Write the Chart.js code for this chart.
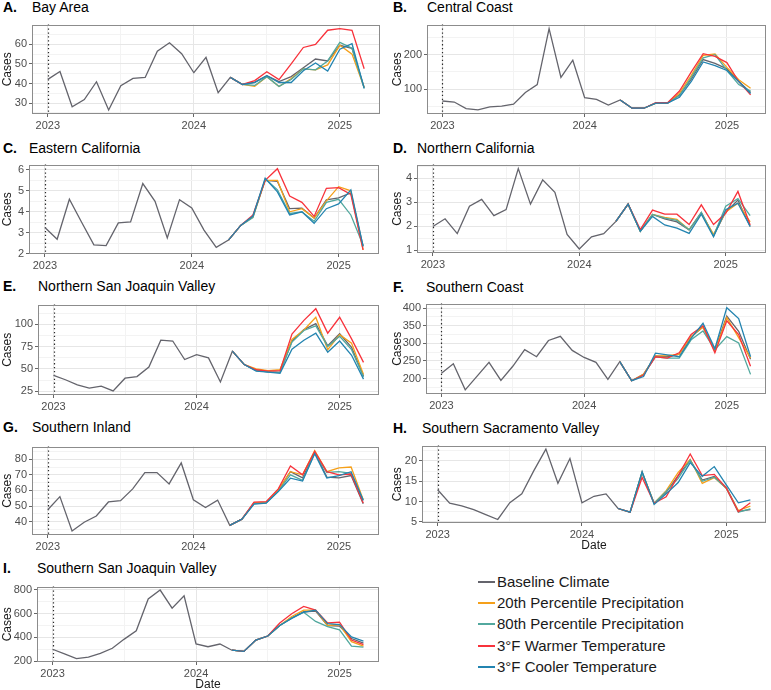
<!DOCTYPE html>
<html><head><meta charset="utf-8">
<script src="https://cdn.jsdelivr.net/npm/chart.js@4.4.1/dist/chart.umd.min.js"></script>
<style>
html,body{margin:0;padding:0;background:#fff;width:771px;height:690px;overflow:hidden;font-family:'Liberation Sans',Arial,sans-serif;}
#wrap{position:relative;width:771px;height:690px;}
canvas{position:absolute;}
.ttl{position:absolute;font-size:14px;line-height:14px;color:#000;white-space:nowrap;}
.ltr{font-weight:bold;}
.leg{position:absolute;left:478px;font-size:15px;line-height:16px;height:16px;color:#1a1a1a;white-space:nowrap;}
.sw{display:inline-block;width:17px;height:2px;vertical-align:middle;margin-right:2px;position:relative;top:-1px;}
</style></head><body><div id="wrap"></div>
<script>
// ---------- categories ----------
const DATES = ['2023-01','2023-02','2023-03','2023-04','2023-05','2023-06','2023-07','2023-08','2023-09','2023-10','2023-11','2023-12',
  '2024-01','2024-02','2024-03','2024-04','2024-05','2024-06','2024-07','2024-08','2024-09','2024-10','2024-11','2024-12',
  '2025-01','2025-02','2025-03'];
const YEAR_LABELS = ['2023','2024','2025'];
const REF_DATE = '2023-01';      // dotted reference line
const PROJ_START = '2024-04';    // first month of the scenario series
const SERIES_NAMES = ['Baseline Climate','20th Percentile Precipitation','80th Percentile Precipitation','3°F Warmer Temperature','3°F Cooler Temperature'];

// ---------- A. Bay Area ----------
const A_BASE = [42.1,46.1,28.1,31.8,40.9,26.5,38.9,42.6,43.1,56.5,60.8,55.2,45.5,53.3,35.3,43.1,39.5,40.7,44,41,43.5,48,52.5,51.5,59.5,58,38];
const A_P20  = [43.1,39.5,38.5,43.5,38.5,42.5,47.5,47,49.5,59.5,55,38];
const A_P80  = [43.1,39.5,39,43.5,38.5,42,47.5,47,51.5,61,58,37.5];
const A_WARM = [43.1,39.5,41.5,46,42,50,58.4,60,67.2,68,67.2,47.5];
const A_COOL = [43.1,39.5,40.5,44,40.5,40.5,46.5,50.5,46.4,57.5,60.3,37.5];
const A_YTICKS = [30,40,50,60];
// ---------- B. Central Coast ----------
const B_BASE = [65,62,43,39,48,50,56,90,113,276,134,184,75,70,53,68,44,44,59,59,83,129,186,175,159,122,90];
const B_P20  = [68,44,44,59,59,88,140,198,202,163,127,102];
const B_P80  = [68,44,44,59,59,81,134,191,200,154,113,94];
const B_WARM = [68,44,44,60,60,94,150,203,195,177,122,83];
const B_COOL = [68,44,44,59,59,76,122,179,168,154,122,87];
const B_YTICKS = [100,200];
// ---------- C. Eastern California ----------
const C_BASE = [3.25,2.69,4.6,3.5,2.42,2.39,3.47,3.52,5.35,4.5,2.75,4.58,4.18,3.13,2.3,2.65,3.35,3.78,5.5,5.45,4.15,4.18,3.7,4.57,4.67,4.9,2.35];
const C_P20  = [2.65,3.35,3.75,5.5,5.5,4.0,4.15,3.7,4.52,5.2,5.0,2.18];
const C_P80  = [2.65,3.35,3.72,5.58,5.05,3.92,4.0,3.55,4.45,4.6,3.85,2.4];
const C_WARM = [2.65,3.35,3.85,5.5,6.06,4.75,4.45,3.78,5.12,5.15,4.83,2.18];
const C_COOL = [2.65,3.35,3.8,5.6,4.95,3.85,4.0,3.45,4.15,4.38,5.05,2.35];
const C_YTICKS = [2,3,4,5,6];
// ---------- D. Northern California ----------
const D_BASE = [2.0,2.32,1.7,2.84,3.13,2.45,2.7,4.41,2.93,3.94,3.42,1.67,1.06,1.57,1.7,2.21,2.93,1.8,2.5,2.32,2.19,1.86,2.58,1.62,2.6,3.1,2.0];
const D_P20  = [2.21,2.93,1.8,2.5,2.38,2.29,1.86,2.55,1.67,2.6,2.97,2.19];
const D_P80  = [2.21,2.93,1.8,2.5,2.35,2.25,1.86,2.58,1.6,2.84,3.16,2.45];
const D_WARM = [2.21,2.93,1.87,2.68,2.51,2.51,2.08,2.9,2.08,2.55,3.46,2.06];
const D_COOL = [2.21,2.93,1.8,2.42,2.06,1.93,1.71,2.51,1.57,2.7,2.97,2.0];
const D_YTICKS = [1,2,3,4];
// ---------- E. Northern San Joaquin Valley ----------
const E_BASE = [42.7,37.8,32.1,28.5,30.7,25.3,39.5,41.3,52,82.2,81.2,60.5,65.9,62.3,35.3,69.8,54.8,48.4,46.7,46,81,94,100.7,75.8,89.3,74,42];
const E_P20  = [69.8,54.8,49.9,48,49.2,83,93.6,107.8,71.5,88.3,78.7,43.8];
const E_P80  = [69.8,54.8,48,46.5,46,80,93,98.2,75.1,86.5,71.5,41];
const E_WARM = [69.8,54.8,49,47.5,48,89,104.3,117.4,90,107.8,83.6,57.3];
const E_COOL = [69.8,54.8,47.4,46.3,45,72,82,90,68.7,81.2,65.2,38.5];
const E_YTICKS = [25,50,75,100];
// ---------- F. Southern Coast ----------
const F_BASE = [215,242,168,207,246,195,235,282,262,308,320,280,260,246,198,248,194,212,264,262,269,319,346,282,377,334,255];
const F_P20  = [248,194,213,264,265,269,319,346,278,373,316,258];
const F_P80  = [248,194,210,262,258,258,310,335,282,319,301,212];
const F_WARM = [248,194,210,262,258,273,325,350,273,364,325,235];
const F_COOL = [248,194,206,272,267,262,314,357,285,401,370,262];
const F_YTICKS = [200,250,300,350,400];
// ---------- G. Southern Inland ----------
const G_BASE = [47.6,56,34,39.6,43.6,52.6,53.4,61,71.4,71.4,64.2,77.6,54,49,53.8,37.6,41.6,52,52.2,60,72,68,84.5,68.5,68,69.5,51.5];
const G_P20  = [37.6,41.6,52,52.5,60.5,72,70,85.5,72,74.5,75,54];
const G_P80  = [37.6,41.6,51.5,52,59.5,70,66.5,84,71.5,72,71,54];
const G_WARM = [37.6,41.6,52.5,52.8,61,75.6,70,85,72,70,70.5,52];
const G_COOL = [37.6,41.6,51.2,51.8,59.2,67.8,66,83.5,68,69.5,72,53.5];
const G_YTICKS = [40,50,60,70,80];
// ---------- H. Southern Sacramento Valley ----------
const H_BASE = [12.9,9.6,8.95,8.0,6.8,5.6,9.74,11.9,17.6,22.9,14.5,20.6,9.7,11.3,11.9,8.3,7.4,17.2,9.6,12.3,16.4,20.2,15.3,16.2,13.5,7.6,8.0];
const H_P20  = [8.3,7.4,17.2,9.6,12.7,17.2,20.4,14.5,15.9,13.3,7.8,8.9];
const H_P80  = [8.3,7.4,17,9.6,12.5,15.7,20.2,15,16,13.3,7.4,8.2];
const H_WARM = [8.3,7.4,15.9,9.6,11.2,16.4,21.7,16.4,16.7,13.3,7.5,9.7];
const H_COOL = [8.3,7.4,17.4,9.3,11.9,14.7,19.6,16.2,18.6,14.1,9.7,10.4];
const H_YTICKS = [5,10,15,20];
// ---------- I. Southern San Joaquin Valley ----------
const I_BASE = [301,262,223,236,267,309,386,456,722,797,645,748,345,322,345,293,283,378,412,500,565,615,620,500,495,391,352];
const I_P20  = [293,283,378,412,500,575,629,629,500,508,365,327];
const I_P80  = [293,283,378,412,500,562,611,534,490,464,327,319];
const I_WARM = [293,283,378,412,521,598,660,629,521,528,378,340];
const I_COOL = [293,283,378,412,500,560,611,629,515,508,404,370];
const I_YTICKS = [200,400,600,800];

// ---------- styles ----------
const COLORS = ['#64646c','#F5A01A','#52A89E','#F8323B','#2384B0'];
const GRID_MAJOR = '#e6e6e6', GRID_MINOR = '#f3f3f3';

const PANELS = [
  {ltr:'A.', name:'Bay Area', col:0, rect:[32,20,380,114], tb:12, base:A_BASE, sc:[A_P20,A_P80,A_WARM,A_COOL], yt:A_YTICKS, date:false},
  {ltr:'B.', name:'Central Coast', col:1, rect:[427,20,766,114], tb:12, base:B_BASE, sc:[B_P20,B_P80,B_WARM,B_COOL], yt:B_YTICKS, date:false},
  {ltr:'C.', name:'Eastern California', col:0, rect:[29,160,379,254], tb:153, base:C_BASE, sc:[C_P20,C_P80,C_WARM,C_COOL], yt:C_YTICKS, date:false},
  {ltr:'D.', name:'Northern California', col:1, rect:[417,160,766,253], tb:153, base:D_BASE, sc:[D_P20,D_P80,D_WARM,D_COOL], yt:D_YTICKS, date:false},
  {ltr:'E.', name:'Northern San Joaquin Valley', col:0, rect:[38,300,379,395], tb:291, base:E_BASE, sc:[E_P20,E_P80,E_WARM,E_COOL], yt:E_YTICKS, date:false},
  {ltr:'F.', name:'Southern Coast', col:1, rect:[426,299,766,394], tb:292, base:F_BASE, sc:[F_P20,F_P80,F_WARM,F_COOL], yt:F_YTICKS, date:false},
  {ltr:'G.', name:'Southern Inland', col:0, rect:[32,442,379,535], tb:432, base:G_BASE, sc:[G_P20,G_P80,G_WARM,G_COOL], yt:G_YTICKS, date:false},
  {ltr:'H.', name:'Southern Sacramento Valley', col:1, rect:[422,441,766,523], tb:433, base:H_BASE, sc:[H_P20,H_P80,H_WARM,H_COOL], yt:H_YTICKS, date:true},
  {ltr:'I.', name:'Southern San Joaquin Valley', col:0, rect:[37,582,379,662], tb:573, base:I_BASE, sc:[I_P20,I_P80,I_WARM,I_COOL], yt:I_YTICKS, date:true}
];

const BASE_YEAR = Number(DATES[0].slice(0,4));
function monthIdx(d){ return (Number(d.slice(0,4))-BASE_YEAR)*12 + Number(d.slice(5,7)) - 1; }
const XS = DATES.map(monthIdx);
const X_SPAN = XS[XS.length-1]-XS[0];
const X_MIN = XS[0]-0.05*X_SPAN, X_MAX = XS[XS.length-1]+0.05*X_SPAN;
const X_MAJOR = YEAR_LABELS.map(y=>monthIdx(y+'-01'));
const START_I = DATES.indexOf(PROJ_START);

function withMinors(majors, lo, hi){
  const step = majors.length>1 ? majors[1]-majors[0] : 1;
  const out = majors.map(v=>({value:v, minor:false}));
  const first = majors[0]-step/2;
  for (let v=first; v<=majors[majors.length-1]+step/2+1e-9; v+=step){
    out.push({value:v, minor:true});
  }
  return out.filter(t=>t.value>=lo-1e-9 && t.value<=hi+1e-9).sort((a,b)=>a.value-b.value);
}

const framePlugin = {
  id:'frame',
  beforeDatasetsDraw(chart){
    const {ctx, chartArea:a, scales:{x}} = chart;
    const px = Math.round(x.getPixelForValue(monthIdx(REF_DATE)))+0.5;
    ctx.save();
    ctx.strokeStyle='#2a2a2a'; ctx.lineWidth=1.2; ctx.setLineDash([1.3,2.6]);
    ctx.beginPath(); ctx.moveTo(px,a.top); ctx.lineTo(px,a.bottom); ctx.stroke();
    ctx.restore();
  },
  afterDraw(chart){
    const {ctx, chartArea:a} = chart;
    ctx.save();
    ctx.strokeStyle='#8c8c8c'; ctx.lineWidth=1;
    ctx.strokeRect(Math.round(a.left)+0.5, Math.round(a.top)+0.5, Math.round(a.right-a.left)-1, Math.round(a.bottom-a.top)-1);
    ctx.restore();
  }
};

const wrap = document.getElementById('wrap');
const PAD = 4;

PANELS.forEach(p=>{
  const [L,T,R,B] = p.rect;
  const colLeft = p.col===0 ? 0 : 390;
  const axH = p.date ? 30 : 17;
  const cw = R + PAD - colLeft, ch = B - T + PAD + axH;

  const t1 = document.createElement('div'); t1.className='ttl ltr'; t1.textContent=p.ltr;
  t1.style.left = (p.col===0?3:393)+'px'; t1.style.top=(p.tb-11.6)+'px';
  const t2 = document.createElement('div'); t2.className='ttl'; t2.textContent=p.name;
  t2.style.left = L+'px'; t2.style.top=(p.tb-11.6)+'px';
  wrap.appendChild(t1); wrap.appendChild(t2);

  const cv = document.createElement('canvas');
  cv.width=cw; cv.height=ch;
  cv.style.left=colLeft+'px'; cv.style.top=(T-PAD)+'px';
  cv.style.width=cw+'px'; cv.style.height=ch+'px';
  wrap.appendChild(cv);

  const all = p.base.concat(...p.sc);
  const dmin = Math.min(...all), dmax = Math.max(...all);
  const yMin = dmin-0.05*(dmax-dmin), yMax = dmax+0.05*(dmax-dmin);

  const series = [p.base, ...p.sc];
  const datasets = series.map((arr,k)=>({
    label: SERIES_NAMES[k],
    data: arr.map((v,i)=>({x: XS[(k===0?0:START_I)+i], y: v})),
    borderColor: COLORS[k],
    borderWidth: 1.3,
    pointRadius: 0,
    tension: 0,
    fill: false,
    order: 5-k
  }));

  const gridColor = c => (c.tick && c.tick.minor) ? GRID_MINOR : GRID_MAJOR;
  const tickColor = c => (c.tick && c.tick.minor) ? 'rgba(0,0,0,0)' : '#666';

  new Chart(cv, {
    type:'line',
    data:{datasets},
    plugins:[framePlugin],
    options:{
      responsive:false, animation:false, devicePixelRatio:1,
      layout:{padding:{top:PAD,right:PAD,left:0,bottom:0}},
      plugins:{legend:{display:false}, tooltip:{enabled:false}},
      scales:{
        x:{
          type:'linear', min:X_MIN, max:X_MAX,
          afterBuildTicks: s => { s.ticks = withMinors(X_MAJOR, X_MIN, X_MAX); },
          afterFit: s => { s.height = axH; },
          border:{display:false},
          grid:{color:gridColor, tickColor:tickColor, tickLength:3, lineWidth:1},
          ticks:{
            autoSkip:false, maxRotation:0, minRotation:0, padding:2,
            color:'#4d4d4d', font:{family:"'Liberation Sans', Arial, sans-serif", size:11},
            callback:(v)=>{ const i = X_MAJOR.indexOf(v); return i>=0 ? YEAR_LABELS[i] : ''; }
          },
          title:{display:p.date, text:'Date', color:'#1a1a1a', padding:0,
                 font:{family:"'Liberation Sans', Arial, sans-serif", size:12}}
        },
        y:{
          type:'linear', min:yMin, max:yMax,
          afterBuildTicks: s => { s.ticks = withMinors(p.yt, yMin, yMax); },
          afterFit: s => { s.width = L - colLeft; },
          border:{display:false},
          grid:{color:gridColor, tickColor:tickColor, tickLength:3, lineWidth:1},
          ticks:{
            autoSkip:false, padding:2,
            color:'#4d4d4d', font:{family:"'Liberation Sans', Arial, sans-serif", size:11},
            callback:(v)=> p.yt.indexOf(v)>=0 ? String(v) : ''
          },
          title:{display:true, text:'Cases', color:'#1a1a1a', padding:0,
                 font:{family:"'Liberation Sans', Arial, sans-serif", size:12}}
        }
      }
    }
  });
});

// legend
const LEG_Y = [582,603,624,646,667];
SERIES_NAMES.forEach((n,k)=>{
  const d = document.createElement('div'); d.className='leg';
  d.style.top=(LEG_Y[k]-8)+'px';
  const sw = document.createElement('span'); sw.className='sw'; sw.style.backgroundColor=COLORS[k];
  d.appendChild(sw); d.appendChild(document.createTextNode(n));
  wrap.appendChild(d);
});
</script></body></html>
